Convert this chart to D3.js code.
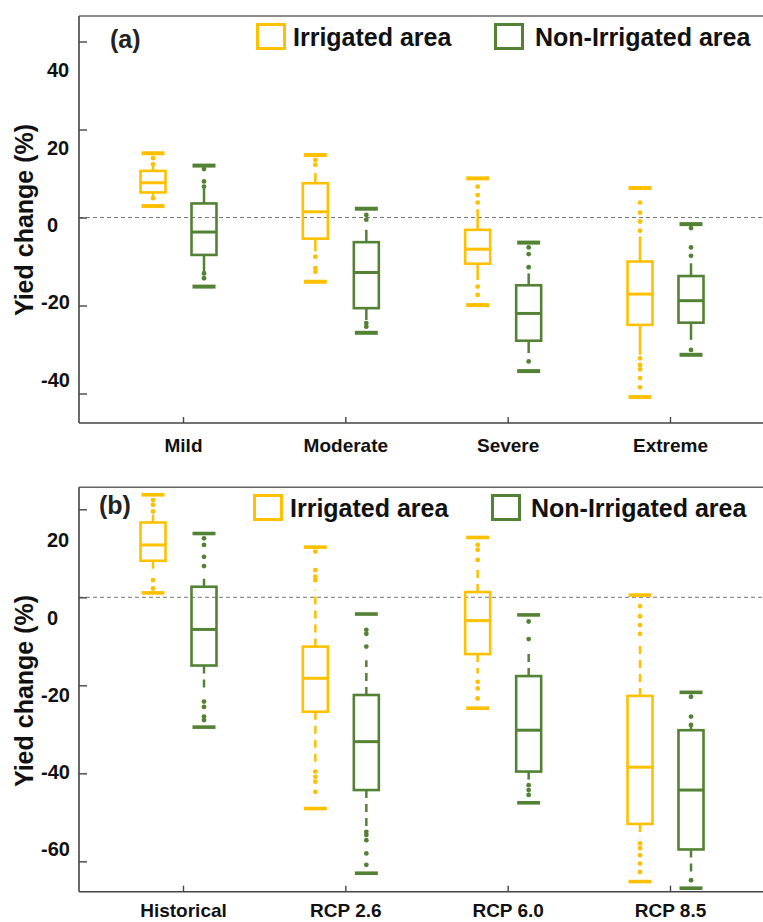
<!DOCTYPE html>
<html>
<head>
<meta charset="utf-8">
<script src="https://cdn.jsdelivr.net/npm/d3@7"></script>
<style>
  body { margin: 0; background: #fff; }
  svg { display: block; font-family: "Liberation Sans", Arial, sans-serif; font-weight: bold; }
</style>
</head>
<body>
<svg></svg>
<script>
const width = 763;
const height = 922;
const LEFT = 79;
const IRR_COLOR = "#FFC000";
const NON_COLOR = "#548235";

const severityCategories = ["Mild", "Moderate", "Severe", "Extreme"];
const scenarioCategories = ["Historical", "RCP 2.6", "RCP 6.0", "RCP 8.5"];
const seriesNames = ["Irrigated area", "Non-Irrigated area"];
const severityTicks = [40, 20, 0, -20, -40];
const scenarioTicks = [20, 0, -20, -40, -60];

// each box: [min, lower whisker, q1, median, q3, upper whisker, max]
const severityIrrigated = [
  [2.6, 4.0, 5.7, 7.9, 10.6, 11.8, 14.6],
  [-14.6, -7.7, -4.8, 1.3, 7.8, 10.1, 14.2],
  [-19.9, -14.2, -10.5, -7.2, -2.8, 1.9, 8.9],
  [-40.8, -31.2, -24.4, -17.4, -10.0, -4.3, 6.7]
];
const severityIrrigatedDots = [
  [13.5, 12.1, 4.4],
  [13.1, 12.0, -8.9, -11.5, -12.3],
  [7.0, 5.1, 3.4, -15.7, -17.6],
  [3.4, 1.1, -0.9, -3.0, -32.0, -33.5, -34.5, -36.5, -38.6]
];
const severityNonIrrigated = [
  [-15.7, -12.4, -8.5, -3.3, 3.2, 6.5, 11.8],
  [-26.2, -23.3, -20.6, -12.5, -5.6, -2.8, 2.0],
  [-34.9, -30.8, -28.0, -21.8, -15.4, -12.7, -5.7],
  [-31.2, -27.8, -23.9, -18.9, -13.3, -10.4, -1.5]
];
const severityNonIrrigatedDots = [
  [11.0, 8.2, 7.0, -12.7, -13.8],
  [0.6, -0.5, -24.0, -24.8],
  [-6.8, -8.3, -11.3, -32.7],
  [-2.4, -6.8, -8.7, -30.1]
];

const scenarioIrrigated = [
  [1.0, 5.8, 8.3, 11.9, 17.0, 18.7, 23.3],
  [-48.0, -38.5, -26.0, -18.4, -11.2, 1.7, 11.4],
  [-25.2, -17.3, -12.9, -5.3, 1.2, 7.0, 13.6],
  [-64.6, -54.8, -51.5, -38.6, -22.4, -10.5, 0.5]
];
const scenarioIrrigatedDots = [
  [22.1, 21.0, 19.5, 3.9, 2.0],
  [10.4, 6.2, 4.7, 3.9, -39.6, -40.8, -41.9, -44.2],
  [11.9, 10.8, 8.5, -19.2, -20.7, -23.0],
  [-2.0, -4.3, -6.3, -8.3, -55.9, -57.0, -58.6, -60.5, -62.4]
];
const scenarioNonIrrigated = [
  [-29.5, -21.8, -15.5, -7.3, 2.4, 4.7, 14.5],
  [-62.7, -52.1, -43.8, -32.8, -22.2, -14.3, -3.8],
  [-46.7, -41.5, -39.6, -30.2, -17.9, -12.7, -4.0],
  [-66.1, -62.7, -57.3, -43.8, -30.2, -29.0, -21.6]
];
const scenarioNonIrrigatedDots = [
  [13.4, 11.9, 9.2, 7.1, -23.7, -24.9, -27.1, -27.9],
  [-7.4, -8.3, -11.2, -53.3, -54.0, -55.2, -58.2, -60.8],
  [-5.5, -9.5, -42.7, -43.8, -44.9],
  [-22.6, -27.1, -29.0, -64.3]
];

const svg = d3.select("svg")
  .attr("width", width)
  .attr("height", height);

svg.append("rect").attr("width", width).attr("height", height).attr("fill", "#fff");

function drawPanel(cfg) {
  const g = svg.append("g");

  const y = d3.scaleLinear().domain(cfg.yDomain).range([cfg.bottom, cfg.top]);
  const x = d3.scalePoint().domain(cfg.categories).range([183, 670]);
  // tick labels in the figure sit on a slightly tighter spacing than the tick marks
  const labelY = d3.scaleLinear().domain([0, 20]).range([cfg.zeroLabelY, cfg.zeroLabelY - 77.3]);

  // top frame line
  g.append("line")
    .attr("x1", LEFT).attr("x2", width)
    .attr("y1", cfg.top).attr("y2", cfg.top)
    .attr("stroke", "#666").attr("stroke-width", 1.6);

  // zero reference
  g.append("line")
    .attr("x1", LEFT).attr("x2", width)
    .attr("y1", y(0)).attr("y2", y(0))
    .attr("stroke", "#777").attr("stroke-width", 1)
    .attr("stroke-dasharray", "4,3");

  // y axis
  const yAxis = g.append("g")
    .attr("transform", `translate(${LEFT},0)`)
    .call(d3.axisLeft(y).tickValues(cfg.ticks).tickSize(-8).tickSizeOuter(0).tickFormat(""));
  yAxis.select(".domain").remove();
  yAxis.selectAll(".tick line").attr("stroke", "#444").attr("stroke-width", 1.4);

  g.append("line")
    .attr("x1", LEFT).attr("x2", LEFT)
    .attr("y1", cfg.top).attr("y2", cfg.bottom)
    .attr("stroke", "#444").attr("stroke-width", 1.6);

  g.selectAll("text.ylab")
    .data(cfg.ticks)
    .join("text")
    .attr("class", "ylab")
    .attr("x", d => d < 0 ? 41 : 47)
    .attr("y", d => labelY(d) + 7)
    .attr("font-size", 20)
    .attr("fill", "#111")
    .text(d => d);

  // x axis
  const xAxis = g.append("g")
    .attr("transform", `translate(0,${cfg.bottom})`)
    .call(d3.axisBottom(x).tickSize(-6).tickSizeOuter(0).tickPadding(cfg.xPadding));
  xAxis.select(".domain").remove();
  xAxis.attr("font-size", 19)
    .attr("font-family", "'Liberation Sans', Arial, sans-serif")
    .attr("color", "#111");
  xAxis.selectAll(".tick line").attr("stroke", "#444").attr("stroke-width", 1.4);

  g.append("line")
    .attr("x1", LEFT).attr("x2", width)
    .attr("y1", cfg.bottom).attr("y2", cfg.bottom)
    .attr("stroke", "#444").attr("stroke-width", 1.6);

  // y title
  g.append("text")
    .attr("transform", `translate(33,${cfg.titleY}) rotate(-90)`)
    .attr("text-anchor", "middle")
    .attr("font-size", 25)
    .attr("fill", "#111")
    .text("Yied change (%)");

  // panel tag
  g.append("text")
    .attr("x", cfg.tagX).attr("y", cfg.tagY)
    .attr("font-size", 25)
    .attr("fill", "#222")
    .text(cfg.tag);

  // boxes
  const series = [
    { color: IRR_COLOR, stats: cfg.irrigated, dots: cfg.irrigatedDots, offset: -30 },
    { color: NON_COLOR, stats: cfg.nonIrrigated, dots: cfg.nonIrrigatedDots, offset: 21 }
  ];

  series.forEach(function(s) {
    const rows = cfg.categories.map((c, i) => ({ cat: c, st: s.stats[i], dots: s.dots[i] }));

    const boxes = g.append("g").selectAll("g")
      .data(rows)
      .join("g")
      .attr("transform", d => `translate(${x(d.cat) + s.offset},0)`);

    boxes.append("line")
      .attr("y1", d => y(d.st[4])).attr("y2", d => y(d.st[5]))
      .attr("stroke", s.color).attr("stroke-width", 2.5)
      .attr("stroke-dasharray", cfg.whiskerDash);
    boxes.append("line")
      .attr("y1", d => y(d.st[2])).attr("y2", d => y(d.st[1]))
      .attr("stroke", s.color).attr("stroke-width", 2.5)
      .attr("stroke-dasharray", cfg.whiskerDash);

    boxes.selectAll("circle")
      .data(d => d.dots)
      .join("circle")
      .attr("cx", 0)
      .attr("cy", v => y(v))
      .attr("r", 2.4)
      .attr("fill", s.color);

    [0, 6].forEach(function(k) {
      boxes.append("line")
        .attr("x1", -11.5).attr("x2", 11.5)
        .attr("y1", d => y(d.st[k])).attr("y2", d => y(d.st[k]))
        .attr("stroke", s.color).attr("stroke-width", cfg.capWidth);
    });

    boxes.append("rect")
      .attr("x", -12.5).attr("width", 25)
      .attr("y", d => y(d.st[4]))
      .attr("height", d => y(d.st[2]) - y(d.st[4]))
      .attr("fill", "none")
      .attr("stroke", s.color).attr("stroke-width", 2.6);

    boxes.append("line")
      .attr("x1", -12.5).attr("x2", 12.5)
      .attr("y1", d => y(d.st[3])).attr("y2", d => y(d.st[3]))
      .attr("stroke", s.color).attr("stroke-width", 3);
  });

  // legend
  const colors = [IRR_COLOR, NON_COLOR];
  seriesNames.forEach(function(name, i) {
    g.append("rect")
      .attr("x", cfg.legendBoxX[i]).attr("y", cfg.legendY)
      .attr("width", 27).attr("height", 24)
      .attr("fill", "none")
      .attr("stroke", colors[i]).attr("stroke-width", 3);
    g.append("text")
      .attr("x", cfg.legendTextX[i]).attr("y", cfg.legendY + 21.5)
      .attr("font-size", 25)
      .attr("fill", "#111")
      .text(name);
  });
}

drawPanel({
  categories: severityCategories,
  ticks: severityTicks,
  irrigated: severityIrrigated,
  irrigatedDots: severityIrrigatedDots,
  nonIrrigated: severityNonIrrigated,
  nonIrrigatedDots: severityNonIrrigatedDots,
  yDomain: [-46.7, 45.8],
  top: 16,
  bottom: 423,
  zeroLabelY: 225,
  titleY: 220,
  xPadding: 16,
  tag: "(a)", tagX: 110, tagY: 48,
  legendBoxX: [257.5, 495.5], legendTextX: [293, 535], legendY: 24.5,
  whiskerDash: null,
  capWidth: 4
});

drawPanel({
  categories: scenarioCategories,
  ticks: scenarioTicks,
  irrigated: scenarioIrrigated,
  irrigatedDots: scenarioIrrigatedDots,
  nonIrrigated: scenarioNonIrrigated,
  nonIrrigatedDots: scenarioNonIrrigatedDots,
  yDomain: [-66.9, 25.0],
  top: 487.3,
  bottom: 891.7,
  zeroLabelY: 617.5,
  titleY: 691,
  xPadding: 11.5,
  tag: "(b)", tagX: 99, tagY: 514,
  legendBoxX: [254.5, 492.5], legendTextX: [290, 531], legendY: 495.5,
  whiskerDash: "8,6",
  capWidth: 3.6
});
</script>
</body>
</html>
